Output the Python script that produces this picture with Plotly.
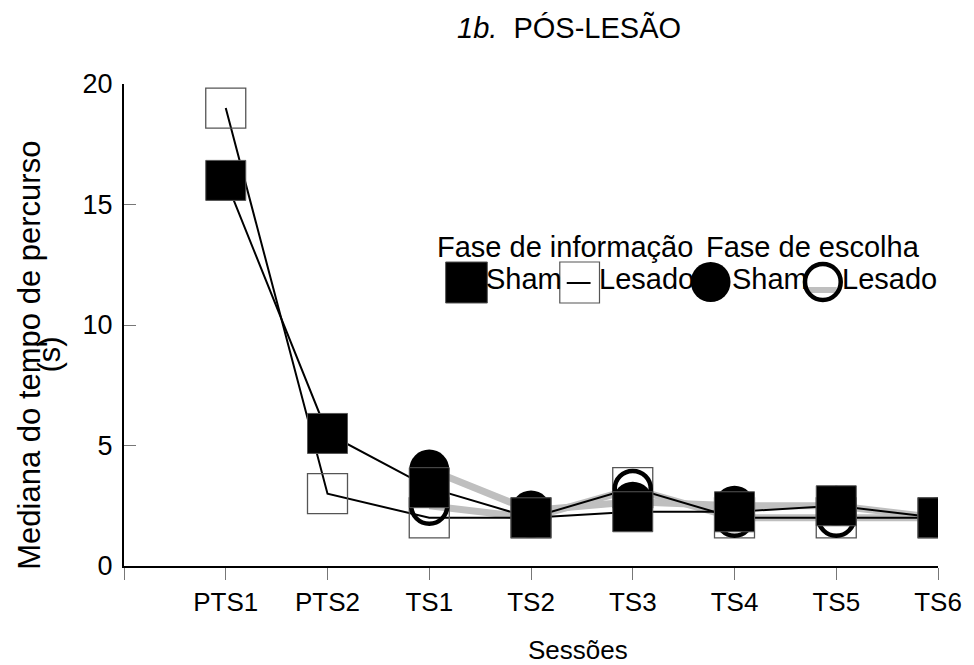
import plotly.graph_objects as go

# ---- data ----
sessions = ["PTS1", "PTS2", "TS1", "TS2", "TS3", "TS4", "TS5", "TS6"]
info_sham = [16, 5.5, 3.25, 2, 2.25, 2.25, 2.5, 2]
info_lesado = [19, 3, 2, 2, 3.25, 2, 2, 2]
choice_sham = [None, None, 4, 2.3, 2.67, 2.5, 2.5, 2]
choice_lesado = [None, None, 2.5, 2, 3.2, 2, 2, 2]
y_ticks = [0, 5, 10, 15, 20]

x = [i + 1 for i in range(len(sessions))]

# ---- layout geometry (pixels) ----
W, H = 974, 665
L, R, T, B = 124, 30, 84, 99
PW, PH = W - L - R, H - T - B


def px(xp):
    return (xp - L) / PW


def py(yp):
    return (H - B - yp) / PH


FONT = "Liberation Sans, Arial, sans-serif"
GREY_LINE = "#bfbfbf"
EDGE = "#555555"

fig = go.Figure()

# grey lines (choice phase) below
fig.add_trace(go.Scatter(x=x, y=choice_sham, mode="lines",
                         line=dict(color=GREY_LINE, width=7), showlegend=False))
fig.add_trace(go.Scatter(x=x, y=choice_lesado, mode="lines",
                         line=dict(color=GREY_LINE, width=7), showlegend=False))
# black lines (information phase)
fig.add_trace(go.Scatter(x=x, y=info_lesado, mode="lines",
                         line=dict(color="black", width=2), showlegend=False))
fig.add_trace(go.Scatter(x=x, y=info_sham, mode="lines",
                         line=dict(color="black", width=2), showlegend=False))
# markers
fig.add_trace(go.Scatter(x=x, y=info_lesado, mode="markers",
                         marker=dict(symbol="square-open", size=40, color=EDGE,
                                     line=dict(color=EDGE, width=1.3)),
                         showlegend=False))
fig.add_trace(go.Scatter(x=x, y=choice_lesado, mode="markers",
                         marker=dict(symbol="circle-open", size=36, color="black",
                                     line=dict(color="black", width=4.5)),
                         showlegend=False))
fig.add_trace(go.Scatter(x=x, y=choice_sham, mode="markers",
                         marker=dict(symbol="circle", size=40, color="black",
                                     line=dict(width=0)),
                         showlegend=False))
fig.add_trace(go.Scatter(x=x, y=info_sham, mode="markers",
                         marker=dict(symbol="square", size=40, color="black",
                                     line=dict(color=EDGE, width=1)),
                         showlegend=False))

shapes = []
ann = []


def rect(x0, y0, x1, y1, fill, line_color, lw):
    shapes.append(dict(type="rect", xref="paper", yref="paper",
                       x0=px(x0), x1=px(x1), y0=py(y1), y1=py(y0),
                       fillcolor=fill, line=dict(color=line_color, width=lw)))


def circ(x0, y0, x1, y1, fill, line_color, lw):
    shapes.append(dict(type="circle", xref="paper", yref="paper",
                       x0=px(x0), x1=px(x1), y0=py(y1), y1=py(y0),
                       fillcolor=fill, line=dict(color=line_color, width=lw)))


def hline(x0, x1, y, color, lw):
    shapes.append(dict(type="line", xref="paper", yref="paper",
                       x0=px(x0), x1=px(x1), y0=py(y), y1=py(y),
                       line=dict(color=color, width=lw)))


def text(xp, yp, s, size, xanchor="left", angle=0):
    ann.append(dict(xref="paper", yref="paper", x=px(xp), y=py(yp), text=s,
                    showarrow=False, xanchor=xanchor, yanchor="middle",
                    textangle=angle, font=dict(size=size, color="black", family=FONT)))


# ---- custom legend ----
rect(448, 262, 490, 303, "black", EDGE, 1)
rect(563, 262, 603, 303, "rgba(0,0,0,0)", EDGE, 1.2)
hline(570, 594, 283, "black", 2)
circ(695, 262, 735, 302, "black", "black", 0)
hline(812, 842, 290, GREY_LINE, 6)
circ(810, 264, 846, 300, "rgba(0,0,0,0)", "black", 4.5)

LEG = 29
text(437, 247, "Fase de informação", LEG)
text(708, 247, "Fase de escolha", LEG)
text(487, 279, "Sham", LEG)
text(600, 279, "Lesado", LEG)
text(734, 279, "Sham", LEG)
text(845, 279, "Lesado", LEG)

# titles
text(457, 28, "<i>1b.</i>\u00a0 PÓS-LESÃO", 29)
text(28, 355, "Mediana do tempo de percurso", 31, xanchor="center", angle=-90)
text(48, 355, "(s)", 31, xanchor="center", angle=-90)
text(581, 650, "Sessões", 26, xanchor="center")

fig.update_layout(
    width=W, height=H,
    margin=dict(l=L, r=R, t=T, b=B),
    paper_bgcolor="white", plot_bgcolor="white",
    font=dict(family=FONT, size=26, color="black"),
    shapes=shapes, annotations=ann,
    showlegend=False,
)
fig.update_xaxes(range=[0, 8], tickvals=[0] + x, ticktext=[""] + sessions,
                 showgrid=False, zeroline=False, showline=True, linecolor="black",
                 linewidth=2, ticks="outside", ticklen=12, tickcolor="#777777",
                 tickwidth=1, tickfont=dict(size=26))
fig.update_yaxes(range=[0, 20], tickvals=y_ticks, showgrid=False, zeroline=False,
                 showline=True, linecolor="black", linewidth=2, ticks="inside",
                 ticklen=12, tickcolor="#777777", tickwidth=1,
                 tickfont=dict(size=27), ticklabelstandoff=4)

fig.write_html("out.html")
